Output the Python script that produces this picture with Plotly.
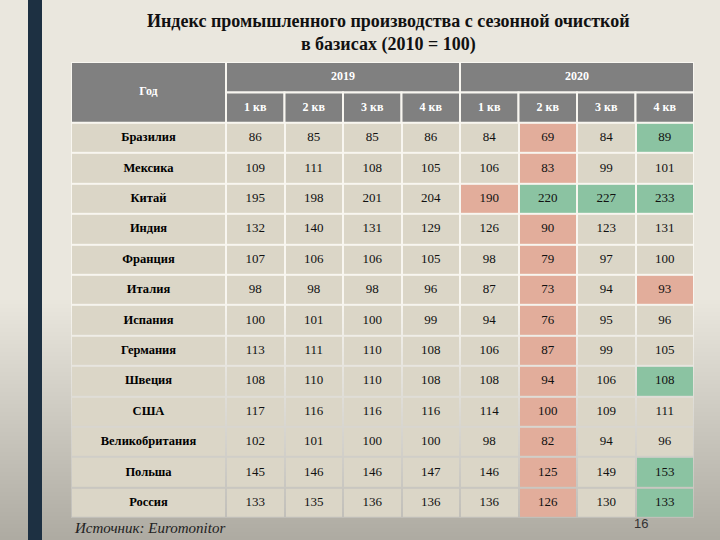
import plotly.graph_objects as go

# ---------------- data ----------------
countries = ["Бразилия", "Мексика", "Китай", "Индия", "Франция", "Италия", "Испания",
             "Германия", "Швеция", "США", "Великобритания", "Польша", "Россия"]
years = ["2019", "2020"]
quarters = ["1 кв", "2 кв", "3 кв", "4 кв"]
corner_label = "Год"

q2019_1 = [86, 109, 195, 132, 107, 98, 100, 113, 108, 117, 102, 145, 133]
q2019_2 = [85, 111, 198, 140, 106, 98, 101, 111, 110, 116, 101, 146, 135]
q2019_3 = [85, 108, 201, 131, 106, 98, 100, 110, 110, 116, 100, 146, 136]
q2019_4 = [86, 105, 204, 129, 105, 96, 99, 108, 108, 116, 100, 147, 136]
q2020_1 = [84, 106, 190, 126, 98, 87, 94, 106, 108, 114, 98, 146, 136]
q2020_2 = [69, 83, 220, 90, 79, 73, 76, 87, 94, 100, 82, 125, 126]
q2020_3 = [84, 99, 227, 123, 97, 94, 95, 99, 106, 109, 94, 149, 130]
q2020_4 = [89, 101, 233, 131, 100, 93, 96, 105, 108, 111, 96, 153, 133]

# highlight codes: 0 = none, 1 = red (decline), 2 = green (growth)
h2020_1 = [0, 0, 1, 0, 0, 0, 0, 0, 0, 0, 0, 0, 0]
h2020_2 = [1, 1, 2, 1, 1, 1, 1, 1, 1, 1, 1, 1, 1]
h2020_3 = [0, 0, 2, 0, 0, 0, 0, 0, 0, 0, 0, 0, 0]
h2020_4 = [2, 0, 2, 0, 0, 1, 0, 0, 2, 0, 0, 2, 2]

title_line1 = "Индекс промышленного производства с сезонной очисткой"
title_line2 = "в базисах (2010 = 100)"
source_text = "Источник: Euromonitor"
page_number = "16"

# ---------------- styling / geometry ----------------
BEIGE = "#dbd6c7"
RED = "#e2ad9b"
GREEN = "#8bc3a2"
HEAD = "#808080"
GRID = "#f8f6f0"
PAGE = "#eae7de"
BAR = "#1d3042"
SERIF = "Liberation Serif"

first_w = 155.0
col_w = 58.5
n_data_cols = 8
x_edges = [0.0, first_w] + [first_w + col_w * (i + 1) for i in range(n_data_cols)]
x_centers = [(x_edges[i] + x_edges[i + 1]) / 2 for i in range(len(x_edges) - 1)]
n_rows = len(countries)
head_rows = 2
y_edges = [head_rows + i for i in range(n_rows + 1)]
y_centers = [head_rows + i + 0.5 for i in range(n_rows)]
total_rows = head_rows + n_rows

values_cols = [q2019_1, q2019_2, q2019_3, q2019_4, q2020_1, q2020_2, q2020_3, q2020_4]
high_cols = [[0] * n_rows] * 4 + [h2020_1, h2020_2, h2020_3, h2020_4]

z = [[0] + [high_cols[c][r] for c in range(n_data_cols)] for r in range(n_rows)]

L, R, T, B = 71, 26, 62, 22
PW, PH = 720 - L - R, 540 - T - B

def px_x(p):
    return (p - L) / PW

def px_y(p):
    return 1 - (p - T) / PH

fig = go.Figure()

fig.add_trace(go.Heatmap(
    x=x_edges, y=y_edges, z=z, zmin=0, zmax=2,
    colorscale=[[0, BEIGE], [0.25, BEIGE], [0.25, RED], [0.75, RED], [0.75, GREEN], [1, GREEN]],
    showscale=False, xgap=2, ygap=2, hoverinfo="skip",
))

shapes = []

# soft background shading toward the bottom (slide vignette), built from thin cumulative bands
n_bands = 60
for i in range(n_bands):
    y_top = 300 + i * 4
    shapes.append(dict(type="rect", xref="paper", yref="paper",
                       x0=px_x(0), x1=px_x(720), y0=px_y(560), y1=px_y(y_top),
                       fillcolor="rgba(120,118,110,0.0065)", line=dict(width=0), layer="below"))

# header cells (merged) as shapes in data coordinates
def cell(x0, x1, y0, y1, fill):
    shapes.append(dict(type="rect", xref="x", yref="y", x0=x0, x1=x1, y0=y0, y1=y1,
                       fillcolor=fill, line=dict(color=GRID, width=2), layer="below"))

cell(x_edges[0], x_edges[1], 0, 2, HEAD)
cell(x_edges[1], x_edges[5], 0, 1, HEAD)
cell(x_edges[5], x_edges[9], 0, 1, HEAD)
for i in range(n_data_cols):
    cell(x_edges[1 + i], x_edges[2 + i], 1, 2, HEAD)

# left dark bar
shapes.append(dict(type="rect", xref="paper", yref="paper", x0=px_x(28), x1=px_x(42),
                   y0=px_y(560), y1=px_y(-20), fillcolor=BAR, line=dict(width=0), layer="below"))

# header text
hx = [x_centers[0], (x_edges[1] + x_edges[5]) / 2, (x_edges[5] + x_edges[9]) / 2] + x_centers[1:]
hy = [1.0, 0.5, 0.5] + [1.5] * n_data_cols
ht = [corner_label] + years + quarters * 2
fig.add_trace(go.Scatter(x=hx, y=hy, text=ht, mode="text", hoverinfo="skip",
                         textfont=dict(family=SERIF, size=12, color="white", weight="bold"),
                         showlegend=False))

# row labels
fig.add_trace(go.Scatter(x=[x_centers[0]] * n_rows, y=y_centers, text=countries, mode="text",
                         hoverinfo="skip", showlegend=False,
                         textfont=dict(family=SERIF, size=12.5, color="black", weight="bold")))

# values
vx, vy, vt = [], [], []
for c in range(n_data_cols):
    for r in range(n_rows):
        vx.append(x_centers[c + 1]); vy.append(y_centers[r]); vt.append(str(values_cols[c][r]))
fig.add_trace(go.Scatter(x=vx, y=vy, text=vt, mode="text", hoverinfo="skip", showlegend=False,
                         textfont=dict(family=SERIF, size=13, color="#111111")))

fig.update_layout(
    width=720, height=540, autosize=False,
    margin=dict(l=L, r=R, t=T, b=B),
    paper_bgcolor=PAGE, plot_bgcolor=GRID,
    shapes=shapes, showlegend=False,
    xaxis=dict(range=[x_edges[0], x_edges[-1]], visible=False, fixedrange=True),
    yaxis=dict(range=[total_rows, 0], visible=False, fixedrange=True),
    annotations=[
        dict(text="<b>" + title_line1 + "</b><br><b>" + title_line2 + "</b>", xref="paper", yref="paper",
             x=px_x(388), y=px_y(33), xanchor="center", yanchor="middle",
             showarrow=False, font=dict(family=SERIF, size=18, color="#111111")),
        dict(text="<i>" + source_text + "</i>", xref="paper", yref="paper",
             x=px_x(72), y=px_y(528), xanchor="left", yanchor="middle",
             showarrow=False, font=dict(family=SERIF, size=15, color="#222222")),
        dict(text=page_number, xref="paper", yref="paper",
             x=px_x(641), y=px_y(523), xanchor="center", yanchor="middle",
             showarrow=False, font=dict(family="Liberation Sans", size=13, color="#333333")),
    ],
)

fig.write_html("out.html", config={"displayModeBar": False},
               post_script="document.body.style.margin='0';document.body.style.overflow='hidden';")
